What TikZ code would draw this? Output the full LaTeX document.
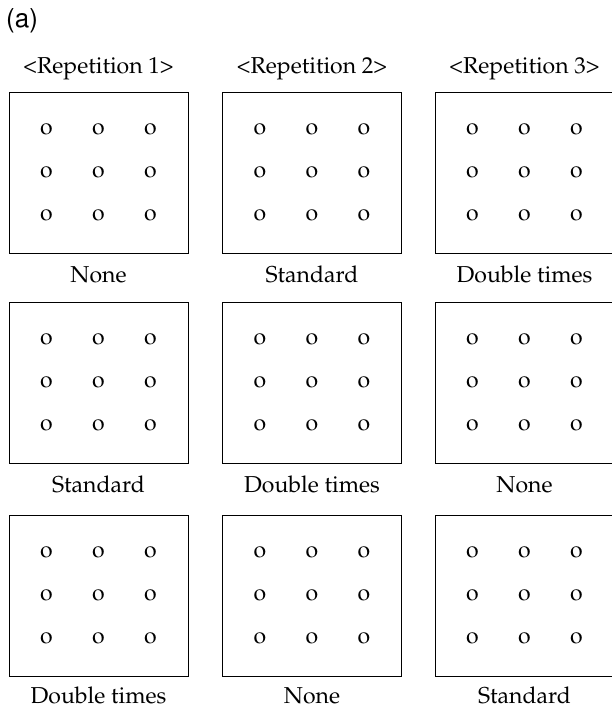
\documentclass[tikz,border=0pt]{standalone}
\usepackage[T1]{fontenc}
\usepackage{mathpazo}
\usetikzlibrary{calc}
\begin{document}
\begin{tikzpicture}[x=1pt,y=-1pt,
  panel/.style={draw,line width=0.8pt,minimum width=179pt,minimum height=161pt,inner sep=0pt},
  dot/.style={inner sep=0pt,font=\fontsize{23}{27}\selectfont},
  lab/.style={anchor=base,inner sep=0pt,font=\fontsize{23}{27}\selectfont},
  tagstyle/.style={anchor=base west,inner sep=0pt,font=\fontfamily{phv}\fontsize{26}{30}\selectfont}]
\useasboundingbox (0,0) rectangle (611,709);
\node[tagstyle] (tag) at (6,28) {(a)};
\foreach \c/\x in {1/98.5,2/312,3/524.5}{
  \node[lab] (head\c) at (\x,74) {<Repetition \c>};
}
\foreach \r/\y in {1/172.5,2/382.5,3/595.5}{
  \foreach \c/\x in {1/98.5,2/312,3/524.5}{
    \node[panel] (box\r\c) at (\x,\y) {};
    \foreach \i/\dx in {1/-52,2/0,3/52}{
      \foreach \j/\dy in {1/-43,2/0,3/43}{
        \node[dot] (d\r\c\i\j) at ($(box\r\c.center)+(\dx,\dy)$) {o};
      }
    }
  }
}
\node[lab] (l11) at (98.5,282) {None};
\node[lab] (l12) at (312,282) {Standard};
\node[lab] (l13) at (524.5,282) {Double times};
\node[lab] (l21) at (98.5,492) {Standard};
\node[lab] (l22) at (312,492) {Double times};
\node[lab] (l23) at (524.5,492) {None};
\node[lab] (l31) at (98.5,703) {Double times};
\node[lab] (l32) at (312,703) {None};
\node[lab] (l33) at (524.5,703) {Standard};
\end{tikzpicture}
\end{document}
